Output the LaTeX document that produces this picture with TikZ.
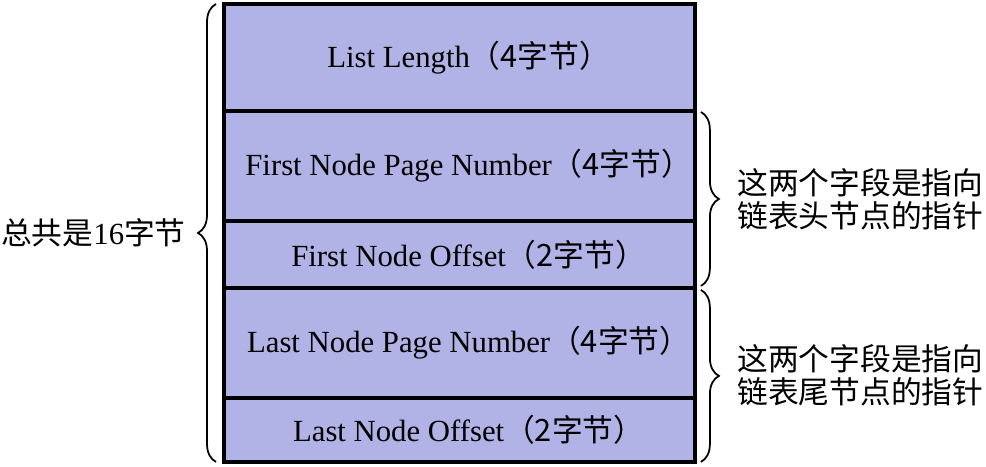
\documentclass[tikz,border=0pt]{standalone}
\usepackage{fontspec}
\setmainfont{Liberation Serif}
\newfontfamily\cjk{Noto Sans CJK SC}
\usetikzlibrary{positioning,calc,decorations.pathreplacing}
\definecolor{fieldblue}{RGB}{177,178,230}
\newcommand{\zh}[1]{{\cjk #1}}
\tikzstyle{field} = [rectangle, minimum width=9.42cm, inner sep=0pt, outer sep=0pt, text centered, fill=fieldblue, draw=black, line width=1.9pt, execute at begin node={\hspace*{0.6em}}]
\tikzstyle{brace} = [decorate, decoration={brace, amplitude=0.36cm}, line width=1pt]
\tikzstyle{note} = [align=left, inner sep=0pt]

\begin{document}
\begin{tikzpicture}[x=0.02cm, y=-0.02cm, node distance=0pt, font=\fontsize{17.5}{19}\selectfont]
\useasboundingbox (0,0) rectangle (986,466);
\node (len) [field, minimum height=2.14cm, anchor=north west] at (224,4) {List Length\zh{（4字节）}};
\node (firstpg) [field, minimum height=2.2cm, below=of len] {First Node Page Number\zh{（4字节）}};
\node (firstoff) [field, minimum height=1.34cm, below=of firstpg] {First Node Offset\zh{（2字节）}};
\node (lastpg) [field, minimum height=2.2cm, below=of firstoff] {Last Node Page Number\zh{（4字节）}};
\node (lastoff) [field, minimum height=1.28cm, below=of lastpg] {Last Node Offset\zh{（2字节）}};

\draw [brace] ([xshift=-0.16cm]lastoff.south west) -- ([xshift=-0.16cm]len.north west);
\draw [brace] ([xshift=0.12cm,yshift=-0.02cm]firstpg.north east) -- ([xshift=0.12cm,yshift=0.04cm]firstoff.south east);
\draw [brace] ([xshift=0.12cm,yshift=-0.04cm]lastpg.north east) -- ([xshift=0.12cm]lastoff.south east);

\node (total) [note, anchor=east] at ($(len.north west)!0.5!(lastoff.south west)+(-38,0)$) {\zh{总共是}16\zh{字节}};
\node (headnote) [note, anchor=west] at ($(firstpg.north east)!0.5!(firstoff.south east)+(42,0)$) {\zh{这两个字段是指向}\\\zh{链表头节点的指针}};
\node (tailnote) [note, anchor=west] at ($(lastpg.north east)!0.5!(lastoff.south east)+(42,0)$) {\zh{这两个字段是指向}\\\zh{链表尾节点的指针}};
\end{tikzpicture}
\end{document}
